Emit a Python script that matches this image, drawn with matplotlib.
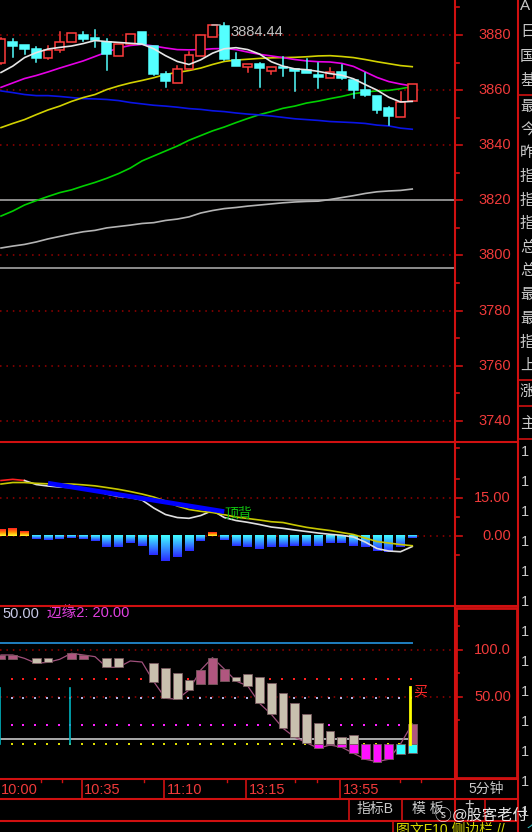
import numpy as np
import matplotlib
matplotlib.use("Agg")
import matplotlib.pyplot as plt
from matplotlib import transforms
from matplotlib.patches import Rectangle
from matplotlib.colors import LinearSegmentedColormap

plt.rcParams['font.family'] = ['Liberation Sans', 'Noto Sans CJK SC', 'DejaVu Sans']

W, H = 532, 832

# ---- data (5 minute bars) ----
time_labels = ['10:00', '10:35', '11:10', '13:15', '13:55']
time_idx = [0, 7, 14, 21, 29]

opens = [3870.0, 3877.3, 3876.4, 3874.8, 3871.5, 3874.6, 3877.3, 3880.1, 3878.8, 3877.6,
         3872.5, 3876.6, 3881.0, 3876.0, 3865.8, 3862.5, 3867.7, 3872.5, 3879.2, 3883.3,
         3870.9, 3868.5, 3869.5, 3867.0, 3868.5, 3867.5, 3867.3, 3865.5, 3864.3, 3866.5,
         3863.7, 3860.0, 3858.0, 3853.4, 3850.3, 3856.2]
highs = [3879.0, 3878.5, 3876.4, 3875.8, 3876.1, 3881.0, 3880.8, 3881.2, 3881.8, 3878.5,
         3876.6, 3880.4, 3881.0, 3876.0, 3866.7, 3868.7, 3874.0, 3880.0, 3883.6, 3884.44,
         3873.4, 3869.6, 3869.7, 3868.5, 3872.1, 3867.5, 3871.2, 3869.7, 3868.1, 3869.1,
         3863.7, 3866.1, 3858.0, 3853.8, 3859.2, 3862.1]
lows = [3869.5, 3872.1, 3873.0, 3870.1, 3871.3, 3874.0, 3877.3, 3877.9, 3875.8, 3867.3,
        3872.5, 3876.6, 3876.6, 3865.5, 3861.0, 3862.5, 3867.5, 3872.5, 3879.2, 3871.0,
        3868.7, 3866.6, 3861.0, 3865.7, 3865.1, 3859.8, 3866.1, 3860.7, 3864.3, 3864.0,
        3857.0, 3858.0, 3851.6, 3847.3, 3850.3, 3856.2]
closes = [3878.4, 3876.1, 3874.8, 3871.5, 3874.6, 3877.6, 3880.8, 3878.5, 3878.2, 3873.1,
          3876.6, 3880.4, 3876.6, 3865.8, 3863.3, 3867.7, 3872.7, 3880.0, 3883.6, 3871.3,
          3868.7, 3869.4, 3867.9, 3868.5, 3867.9, 3866.9, 3866.1, 3864.6, 3866.7, 3864.3,
          3860.0, 3858.2, 3852.8, 3850.6, 3855.8, 3862.1]
high_label = '3884.44'
high_bar = 19

ma_white = [3866.4, 3868.7, 3871.8, 3873.6, 3874.9, 3875.5, 3876.0, 3876.9, 3878.0, 3877.6,
            3877.3, 3877.0, 3876.7, 3875.0, 3872.5, 3870.4, 3869.3, 3871.0, 3873.4, 3875.0,
            3875.4, 3874.7, 3873.1, 3870.3, 3868.7, 3867.7, 3867.4, 3866.8, 3866.0, 3865.4,
            3864.1, 3862.0, 3860.0, 3857.4, 3855.7, 3855.9]
ma_magenta = [3861.0, 3862.6, 3864.2, 3865.3, 3866.6, 3868.0, 3869.3, 3870.6, 3872.2, 3873.8,
              3875.3, 3876.2, 3876.6, 3876.0, 3875.3, 3874.7, 3874.6, 3874.7, 3875.0, 3875.1,
              3874.7, 3873.8, 3873.0, 3872.4, 3871.8, 3871.1, 3870.6, 3870.3, 3870.2, 3869.7,
              3868.6, 3866.6, 3864.6, 3863.1, 3862.2, 3861.5]
ma_yellow = [3846.4, 3847.9, 3849.3, 3851.1, 3852.8, 3854.2, 3855.9, 3857.3, 3858.4, 3860.2,
             3861.5, 3862.6, 3863.5, 3864.5, 3865.7, 3866.4, 3867.1, 3868.0, 3869.3, 3870.4,
             3870.9, 3871.2, 3871.5, 3871.7, 3871.8, 3871.9, 3872.1, 3872.4, 3872.5, 3872.2,
             3871.8, 3871.1, 3870.3, 3869.6, 3868.9, 3868.5]
ma_blue = [3859.7, 3859.1, 3858.4, 3858.0, 3858.0, 3857.7, 3857.3, 3856.9, 3856.8, 3856.6,
           3856.2, 3855.5, 3855.0, 3854.5, 3854.2, 3853.8, 3853.3, 3853.0, 3852.5, 3852.2,
           3851.7, 3851.3, 3851.0, 3850.6, 3850.1, 3849.6, 3849.3, 3849.0, 3848.6, 3848.4,
           3848.2, 3847.9, 3847.3, 3847.0, 3846.2, 3845.8]
ma_green = [3814.3, 3816.1, 3818.3, 3819.9, 3821.4, 3822.8, 3823.8, 3825.2, 3826.5, 3828.0,
            3829.7, 3831.7, 3834.3, 3836.1, 3837.9, 3839.7, 3841.8, 3843.5, 3845.2, 3846.6,
            3848.2, 3849.7, 3851.1, 3852.2, 3853.4, 3854.2, 3855.3, 3856.0, 3856.9, 3857.7,
            3858.7, 3859.3, 3859.7, 3859.9, 3860.5, 3861.3]
ma_grey = [3802.7, 3803.4, 3804.0, 3804.9, 3806.0, 3806.9, 3807.8, 3808.6, 3809.1, 3810.0,
           3810.5, 3811.0, 3811.6, 3811.9, 3812.7, 3813.2, 3814.0, 3815.4, 3816.3, 3817.0,
           3817.4, 3817.9, 3818.3, 3818.7, 3819.1, 3819.4, 3819.6, 3819.7, 3820.3, 3821.0,
           3821.7, 3822.5, 3823.1, 3823.4, 3823.6, 3824.1]
level_lines = [3820.0, 3795.5]
price_ticks = [3880, 3860, 3840, 3820, 3800, 3780, 3760, 3740]

# MACD panel
dif = [21.97, 22.44, 21.97, 20.37, 19.78, 19.38, 19.18, 18.78, 17.99, 16.59,
       15.60, 15.20, 14.21, 11.02, 8.44, 7.24, 6.92, 8.04, 10.03, 7.24,
       6.05, 5.33, 4.46, 3.46, 2.94, 2.27, 1.67, 1.07, 0.56, 0.16,
       -0.52, -2.51, -5.09, -6.09, -6.37, -4.30]
dea = [20.57, 21.17, 21.17, 20.85, 20.65, 20.57, 20.57, 20.25, 19.85, 19.18,
       18.46, 17.59, 16.59, 15.40, 13.81, 11.82, 10.43, 9.71, 9.23, 8.36,
       7.44, 6.85, 6.25, 5.57, 5.25, 4.26, 3.34, 2.67, 2.07, 1.27,
       0.48, -0.92, -2.31, -2.91, -3.50, -3.98]
macd_hist = [2.67, 2.94, 1.87, -1.31, -1.71, -1.31, -0.80, -1.31, -2.10, -4.60,
             -4.60, -3.00, -4.10, -7.70, -10.10, -8.60, -6.10, -2.10, 1.20, -1.70,
             -4.10, -4.60, -5.30, -4.60, -4.60, -4.10, -4.10, -4.10, -3.00, -3.00,
             -4.10, -4.60, -6.10, -6.60, -4.60, -1.00]
div_idx = [4, 19]
div_val = [20.9, 9.6]
div_text = '顶背'
macd_ticks = [15.00, 0.00]

# lower panel
box_open = [90.1, 90.1, 91.1, 91.8, 91.8, 90.1, 90.1, 90.1, 92.9, 91.8,
            91.1, 88.3, 87.2, 85.9, 80.5, 75.2, 68.1, 63.5, 63.5, 67.0,
            71.6, 74.5, 71.6, 64.6, 54.6, 43.9, 31.6, 22.0, 14.1, 7.8,
            9.6, 0.0, 0.0, 0.0, -11.0, -9.9]
box_close = [94.7, 94.7, 91.1, 85.8, 86.9, 90.1, 96.5, 94.7, 92.9, 81.6,
             81.6, 88.3, 87.2, 66.3, 48.6, 47.6, 57.4, 78.7, 91.8, 79.8,
             67.0, 61.7, 43.3, 31.6, 16.7, 7.1, 1.4, -4.6, -1.1, -3.5,
             -9.9, -16.3, -18.8, -16.3, 0.0, 21.3]
edge_upper = 107.8
base_line = 5.3
dot_levels = [69.5, 49.3, 20.2, 0.0]
signal_idx = [0, 6]
signal_top = 59.3
buy_idx = 35
buy_top = 60.3
low_ticks = [100.0, 50.00]

# ---- layout helpers ----
STEP = 11.75
X0 = 1.0
XL = ((0 - X0) / STEP, (455 - X0) / STEP)
RED = '#d01010'
GRID = '#9a0000'
LAB = '#f03a3a'
DOT = (0, (1, 3.2))

fig = plt.figure(figsize=(W / 100, H / 100), dpi=100, facecolor='black')


def px_axes(x0, y0, x1, y1, ylim):
    ax = fig.add_axes([x0 / W, 1 - y1 / H, (x1 - x0) / W, (y1 - y0) / H])
    ax.set_xlim(*XL)
    ax.set_ylim(*ylim)
    ax.axis('off')
    return ax


ax_p = px_axes(0, 0, 455, 442, (3732.3, 3892.7))
ax_m = px_axes(0, 442, 455, 606, (-27.97, 37.3))
ax_k = px_axes(0, 606, 455, 778, (-36.2, 146.8))

ov = fig.add_axes([0, 0, 1, 1], zorder=10)
ov.set_xlim(0, W)
ov.set_ylim(H, 0)
ov.axis('off')
ov.patch.set_alpha(0)

x = np.arange(len(closes))

# ---- price panel ----
for v in price_ticks:
    ax_p.axhline(v, color=GRID, lw=1.1, ls=DOT, zorder=1)
for v in level_lines:
    ax_p.axhline(v, color='#8c8c8c', lw=1.4, zorder=1)

ax_p.plot(x, ma_grey, color='#b4b4b4', lw=1.2, zorder=2)
ax_p.plot(x, ma_green, color='#00d000', lw=1.2, zorder=2)
ax_p.plot(x, ma_blue, color='#0a14e6', lw=1.2, zorder=2)
ax_p.plot(x, ma_yellow, color='#d2d200', lw=1.2, zorder=2)
ax_p.plot(x, ma_magenta, color='#e600e6', lw=1.2, zorder=2)

bw = 0.74
for i in range(len(closes)):
    o, h, l, c = opens[i], highs[i], lows[i], closes[i]
    up = c > o
    col = '#ff3c3c' if up else '#54ffff'
    lo, hi = min(o, c), max(o, c)
    ax_p.plot([i, i], [hi, h], color=col, lw=1.1, zorder=3)
    ax_p.plot([i, i], [l, lo], color=col, lw=1.1, zorder=3)
    if hi - lo < 0.4:
        ax_p.plot([i - bw / 2, i + bw / 2], [c, c], color=col, lw=1.4, zorder=4)
    else:
        ax_p.add_patch(Rectangle((i - bw / 2, lo), bw, hi - lo,
                                 facecolor='black' if up else col,
                                 edgecolor=col, lw=1.1, zorder=4))

ax_p.plot(x, ma_white, color='#e6e6e6', lw=1.2, zorder=5)

ax_p.annotate(high_label, xy=(high_bar, highs[high_bar]), xytext=(6, -2),
              textcoords='offset pixels', ha='left', va='top',
              color='#c0c0c0', fontsize=10.5, zorder=6)
ax_p.annotate('', xy=(high_bar - 0.1, highs[high_bar] - 0.8), xytext=(high_bar - 1.3, highs[high_bar] - 0.8),
              arrowprops=dict(arrowstyle='-', color='#c0c0c0', lw=1), zorder=6)

# ---- MACD panel ----
for v in macd_ticks:
    ax_m.axhline(v, color=GRID, lw=1.1, ls=DOT, zorder=1)

cm_neg = LinearSegmentedColormap.from_list('neg', ['#40ffff', '#2a2aff'])
cm_pos = LinearSegmentedColormap.from_list('pos', ['#ff2020', '#ff9000', '#ffff30'])
grad = np.linspace(0, 1, 64).reshape(-1, 1)
hw = 0.38
for i, v in enumerate(macd_hist):
    if v < 0:
        ax_m.imshow(grad, extent=(i - hw, i + hw, v, 0), cmap=cm_neg,
                    aspect='auto', origin='upper', zorder=2)
    else:
        ax_m.imshow(grad, extent=(i - hw, i + hw, 0, v), cmap=cm_pos,
                    aspect='auto', origin='upper', zorder=2)

ax_m.plot(x[:3], dif[:3], color='#ff2020', lw=1.2, zorder=3)
ax_m.plot(x[2:], dif[2:], color='#e0e0e0', lw=1.2, zorder=3)
ax_m.plot(x, dea, color='#c8c800', lw=1.2, zorder=3)
ax_m.plot(div_idx, div_val, color='#0000ff', lw=3.4, zorder=4, solid_capstyle='butt')
ax_m.text(div_idx[1] + 0.05, div_val[1] - 0.9, div_text, color='#10c010',
          fontsize=10, ha='left', va='center', zorder=5)
ax_m.set_xlim(*XL)
ax_m.set_ylim(-27.97, 37.3)

# ---- lower panel ----
for v in low_ticks:
    ax_k.axhline(v, color=GRID, lw=1.1, ls=DOT, zorder=1)
ax_k.plot([x[0] - 0.1, x[-1]], [edge_upper, edge_upper], color='#1f7fc0', lw=1.4, zorder=2)
ax_k.plot([x[0] - 0.1, x[-1]], [base_line, base_line], color='#c8c8c8', lw=1.2, zorder=2)
dot_cols = ['#ff1e1e', '#b0b0e0', '#ff20ff', '#e0e000']
for lev, dc in zip(dot_levels, dot_cols):
    ax_k.scatter(x[1:] - 0.1, [lev] * (len(x) - 1), s=2.2, marker='s', color=dc, lw=0, zorder=2)
for si in signal_idx:
    ax_k.plot([si - 0.1, si - 0.1], [0, signal_top], color='#00b4c0', lw=1.2, zorder=2)

ax_k.plot(x, box_close, color='#a0507c', lw=0.9, zorder=3)
kw = 0.74
for i in range(len(x)):
    o, c = box_open[i], box_close[i]
    lo, hi = min(o, c), max(o, c)
    up = c > o
    if hi - lo < 0.5:
        continue
    if hi > 0:
        b = max(lo, 0)
        ax_k.add_patch(Rectangle((i - kw / 2, b), kw, hi - b,
                                 facecolor='#b0567f' if up else '#c8c0ae',
                                 edgecolor='#7a5a60', lw=0.6, zorder=4))
    if lo < 0:
        t = min(hi, 0)
        ax_k.add_patch(Rectangle((i - kw / 2, lo), kw, t - lo,
                                 facecolor='#30ffff' if up else '#ff10ff',
                                 edgecolor='#7a5a60', lw=0.6, zorder=4))

ax_k.plot([buy_idx - 0.15, buy_idx - 0.15], [0, buy_top], color='#ffff00', lw=2, zorder=5)
ax_k.text(buy_idx + 0.05, buy_top - 5, '买', color='#ff2a2a', fontsize=10, ha='left', va='center', zorder=6)
ax_k.text(0.005, 0.955, '50.00', transform=ax_k.transAxes, color='#c8c8e6', fontsize=10.5, va='center')
ax_k.text(0.104, 0.955, '边缘2: 20.00', transform=ax_k.transAxes, color='#e040e0', fontsize=10.5, va='center')

# ---- right axes labels ----
for ax, ticks, fmt, minor in [(ax_p, price_ticks, '{:.0f}', 10),
                              (ax_m, macd_ticks, '{:.2f}', 7.5),
                              (ax_k, low_ticks, None, 25)]:
    tr = transforms.blended_transform_factory(ov.transData, ax.transData)
    for t in ticks:
        lab = fmt.format(t) if fmt else ('100.0' if t >= 100 else '{:.2f}'.format(t))
        ov.text(511, t, lab, transform=tr, color=LAB, fontsize=10.5, ha='right', va='center')
        ov.plot([455, 462], [t, t], transform=tr, color=RED, lw=1.2)
    for t in ticks:
        ov.plot([455, 459], [t + minor, t + minor], transform=tr, color=RED, lw=1.2)
    ov.plot([455, 459], [ticks[-1] - minor, ticks[-1] - minor], transform=tr, color=RED, lw=1.2)

# ---- frame lines ----
for yy in [442, 606, 779, 799, 821]:
    ov.plot([0, 518], [yy, yy], color=RED, lw=1.5)
ov.plot([455, 455], [0, 821], color=RED, lw=1.5)
ov.plot([518, 518], [0, 832], color=RED, lw=1.5)
ov.add_patch(Rectangle((455.5, 608), 61.5, 170, fill=False, edgecolor=RED, lw=2))

# time axis row
for k, (lab, ti) in enumerate(zip(time_labels, time_idx)):
    px = X0 + ti * STEP
    if k > 0:
        ov.plot([px - 1.5, px - 1.5], [779, 799], color=RED, lw=1.2)
    ov.text(px + (0 if k == 0 else 1), 790, lab, color=LAB, fontsize=10.5, ha='left', va='center')
for tk in [41, 62, 144, 227, 295, 317, 400, 421]:
    ov.plot([tk, tk], [779, 782], color=RED, lw=1)
ov.text(486, 789, '5分钟', color='#c8c8c8', fontsize=10, ha='center', va='center')

# bottom button row
for xx in [349, 402, 485]:
    ov.plot([xx, xx], [799, 821], color=RED, lw=1.2)
ov.plot([393, 393], [821, 832], color=RED, lw=1.2)
ov.text(375, 809, '指标B', color='#c8c8c8', fontsize=10, ha='center', va='center')
ov.text(428, 809, '模 板', color='#c8c8c8', fontsize=10, ha='center', va='center')
ov.text(469, 805, '+', color='#c8c8c8', fontsize=12, ha='center', va='center')
ov.text(396, 830, '图文F10 侧边栏 //', color='#d8d800', fontsize=10, ha='left', va='center')
ov.text(527, 830, '个', color='#30c0c0', fontsize=9, ha='left', va='center')
ov.text(490, 815, '@股客老付', color='white', fontsize=11, ha='center', va='center', alpha=0.9)
ov.text(443, 816, 'ⓢ', color='white', fontsize=12, ha='center', va='center', alpha=0.8)

# right column info
side_chars = ['A', '日', '国', '基', '最', '今', '昨', '指', '指', '指', '总', '总', '最', '最', '指', '上', '涨', '主']
side_y = [6, 32, 57, 81, 107, 130, 153, 177, 201, 224, 248, 271, 295, 319, 343, 366, 392, 424]
for ch, yy in zip(side_chars, side_y):
    ov.text(520, yy, ch, color='#c8c8c8', fontsize=11, ha='left', va='center')
for yy in [95, 380, 406, 439]:
    ov.plot([518, 532], [yy, yy], color=RED, lw=1.2)
for yy in range(452, 820, 30):
    ov.text(521, yy, '1', color='#c8c8c8', fontsize=10.5, ha='left', va='center')

fig.savefig('out.png', dpi=100, facecolor='black')
